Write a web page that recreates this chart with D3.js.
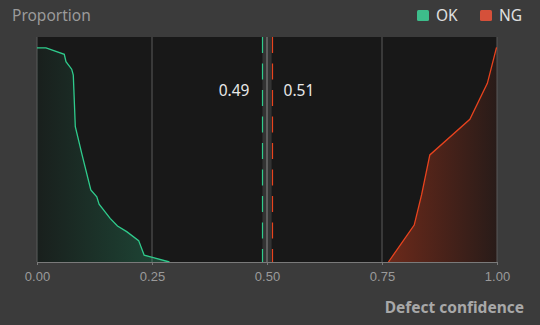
<!DOCTYPE html>
<html>
<head>
<meta charset="utf-8">
<script src="https://cdn.jsdelivr.net/npm/d3@7"></script>
<style>
  body { margin: 0; background: #3b3b3b; }
  svg { display: block; font-family: "Noto Sans", "Open Sans", sans-serif; }
  .axis path, .axis line { stroke: #7a7a7a; }
  .axis text { fill: #9a9a9a; font-size: 13px; }
</style>
</head>
<body>
<div id="chart"></div>
<script>
// confidence of OK samples and their proportion
var okX = [0, 0.0196, 0.0593, 0.063, 0.0754, 0.0789, 0.0833, 0.0972, 0.117, 0.130, 0.135, 0.159, 0.175, 0.195, 0.221, 0.233, 0.253, 0.288];
var okY = [0.952, 0.952, 0.923, 0.890, 0.857, 0.831, 0.601, 0.483, 0.320, 0.290, 0.257, 0.194, 0.160, 0.135, 0.095, 0.030, 0.019, 0];
// confidence of NG samples and their proportion
var ngX = [0.764, 0.820, 0.836, 0.854, 0.941, 0.979, 0.999];
var ngY = [0, 0.164, 0.298, 0.476, 0.634, 0.794, 0.954];
// thresholds
var okThreshold = 0.49, ngThreshold = 0.51;
var xTicks = [0, 0.25, 0.5, 0.75, 1];
var legendNames = ["OK", "NG"];

var okData = okX.map(function(d, i) { return {x: d, y: okY[i]}; });
var ngData = ngX.map(function(d, i) { return {x: d, y: ngY[i]}; });

var W = 540, H = 325;
var margin = {top: 37, right: 43, bottom: 63, left: 37},
    width = W - margin.left - margin.right,
    height = H - margin.top - margin.bottom;

var color = {ok: "#2fcb8c", ng: "#e8431e", okLegend: "#3dbd8b", ngLegend: "#d5503a"};

var svg = d3.select("#chart").append("svg")
    .attr("width", W)
    .attr("height", H);

var defs = svg.append("defs");
var gOk = defs.append("linearGradient").attr("id", "grad-ok")
    .attr("x1", "0").attr("x2", "1").attr("y1", "0").attr("y2", "0");
gOk.append("stop").attr("offset", "0").attr("stop-color", "#2fcb8c").attr("stop-opacity", 0.04);
gOk.append("stop").attr("offset", "1").attr("stop-color", "#2fcb8c").attr("stop-opacity", 0.27);
var gNg = defs.append("linearGradient").attr("id", "grad-ng")
    .attr("x1", "0").attr("x2", "1").attr("y1", "0").attr("y2", "0");
gNg.append("stop").attr("offset", "0").attr("stop-color", "#e8431e").attr("stop-opacity", 0.4);
gNg.append("stop").attr("offset", "1").attr("stop-color", "#e8431e").attr("stop-opacity", 0.08);

// title
svg.append("text")
    .attr("x", 12).attr("y", 21)
    .attr("fill", "#9a9a9a")
    .style("font-size", "15.5px")
    .text("Proportion");

// legend
var legend = svg.selectAll(".legend")
    .data(legendNames)
    .enter().append("g")
    .attr("class", "legend")
    .attr("transform", function(d, i) { return "translate(" + (417 + i * 63) + ",10)"; });
legend.append("rect")
    .attr("width", 12).attr("height", 11).attr("rx", 1.5)
    .attr("fill", function(d, i) { return i == 0 ? color.okLegend : color.ngLegend; });
legend.append("text")
    .attr("x", 19).attr("y", 11)
    .attr("fill", "#e0e0e0")
    .style("font-size", "15.5px")
    .text(function(d) { return d; });

var g = svg.append("g")
    .attr("transform", "translate(" + margin.left + "," + margin.top + ")");

var x = d3.scaleLinear().domain([0, 1]).range([0, width]);
var y = d3.scaleLinear().domain([0, 1]).range([height, 0]);

// plot background
g.append("rect")
    .attr("width", width).attr("height", height)
    .attr("fill", "#181818");

// band between thresholds
g.append("rect")
    .attr("x", x(okThreshold)).attr("width", x(ngThreshold) - x(okThreshold))
    .attr("height", height)
    .attr("fill", "#333");

// grid lines
g.selectAll(".grid")
    .data(xTicks)
    .enter().append("line")
    .attr("class", "grid")
    .attr("x1", function(d) { return x(d); })
    .attr("x2", function(d) { return x(d); })
    .attr("y1", 0).attr("y2", height)
    .attr("stroke", function(d) { return d == 0.5 ? "#8a8a8a" : "#5a5a5a"; });

// areas
var area = d3.area()
    .x(function(d) { return x(d.x); })
    .y0(height)
    .y1(function(d) { return y(d.y); });
var line = d3.line()
    .x(function(d) { return x(d.x); })
    .y(function(d) { return y(d.y); });

g.append("path").datum(okData)
    .attr("d", area).attr("fill", "url(#grad-ok)");
g.append("path").datum(ngData)
    .attr("d", area).attr("fill", "url(#grad-ng)");
g.append("path").datum(okData)
    .attr("d", line).attr("fill", "none")
    .attr("stroke", color.ok).attr("stroke-width", 1.3);
g.append("path").datum(ngData)
    .attr("d", line).attr("fill", "none")
    .attr("stroke", color.ng).attr("stroke-width", 1.3);

// threshold lines
g.append("line")
    .attr("x1", Math.round(x(okThreshold)) + 0.5).attr("x2", Math.round(x(okThreshold)) + 0.5)
    .attr("y1", 0).attr("y2", height)
    .attr("stroke", color.ok).attr("stroke-width", 1.2)
    .attr("stroke-dasharray", "16,10.5");
g.append("line")
    .attr("x1", Math.round(x(ngThreshold)) + 0.5).attr("x2", Math.round(x(ngThreshold)) + 0.5)
    .attr("y1", 0).attr("y2", height)
    .attr("stroke", color.ng).attr("stroke-width", 1.2)
    .attr("stroke-dasharray", "16,10.5");

g.append("text")
    .attr("x", x(okThreshold) - 13).attr("y", 59)
    .attr("text-anchor", "end")
    .attr("fill", "#e8e8e8")
    .style("font-size", "15.5px")
    .text(d3.format(".2f")(okThreshold));
g.append("text")
    .attr("x", x(ngThreshold) + 12).attr("y", 59)
    .attr("fill", "#e8e8e8")
    .style("font-size", "15.5px")
    .text(d3.format(".2f")(ngThreshold));

// x axis
var xAxis = d3.axisBottom(x)
    .tickValues(xTicks)
    .tickFormat(d3.format(".2f"))
    .tickSize(3)
    .tickSizeOuter(0)
    .tickPadding(7);
g.append("g")
    .attr("class", "x axis")
    .attr("transform", "translate(0," + height + ")")
    .call(xAxis);

svg.append("text")
    .attr("x", 524).attr("y", 313)
    .attr("text-anchor", "end")
    .attr("fill", "#a8a8a8")
    .style("font-size", "15.5px")
    .style("font-weight", "bold")
    .text("Defect confidence");
</script>
</body>
</html>
